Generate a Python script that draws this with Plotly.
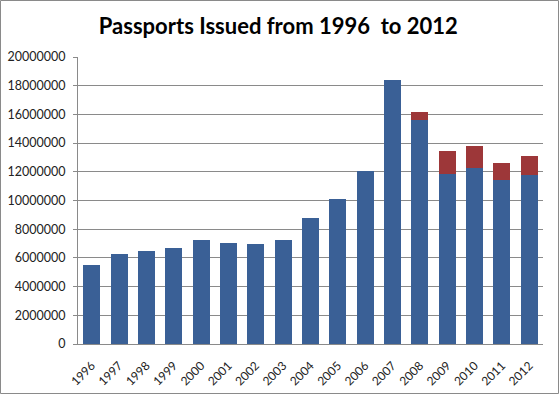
import plotly.graph_objects as go

years = [str(y) for y in range(1996, 2013)]
base_values = [5530000, 6260000, 6470000, 6700000, 7260000, 7050000, 6980000, 7260000,
               8770000, 10100000, 12090000, 18380000, 15630000, 11880000, 12280000, 11400000, 11810000]
extra_values = [0, 0, 0, 0, 0, 0, 0, 0, 0, 0, 0, 0, 510000, 1590000, 1540000, 1210000, 1310000]
y_ticks = list(range(0, 20000001, 2000000))

W, H = 560, 397
L, R, T, B = 78, 17, 57, 53
pw, ph = W - L - R, H - T - B

fig = go.Figure()
fig.add_bar(x=years, y=base_values, marker=dict(color="#3A6096", line=dict(width=0)))
fig.add_bar(x=years, y=extra_values, marker=dict(color="#9D3739", line=dict(width=0)))

fig.update_layout(
    width=W, height=H, barmode="stack", bargap=0.38, showlegend=False,
    margin=dict(l=L, r=R, t=T, b=B, autoexpand=False),
    paper_bgcolor="white", plot_bgcolor="white",
    font=dict(family="Lato, Calibri, sans-serif", size=12, color="#222222"),
    title=dict(text="<b>Passports Issued from 1996  to 2012</b>", x=0.497, xanchor="center",
               y=1 - 26 / H, yanchor="middle",
               font=dict(family="Lato, Calibri, sans-serif", size=22, color="black")),
)
fig.update_yaxes(range=[0, 20000000], tickvals=y_ticks, ticktext=[str(v) for v in y_ticks],
                 showgrid=True, gridcolor="#8a8a8a", gridwidth=1, automargin=False,
                 showline=True, linecolor="#8a8a8a", linewidth=1,
                 ticks="outside", ticklen=4, tickcolor="#8a8a8a", zeroline=False,
                 ticklabelstandoff=5, tickfont=dict(size=12.5))
fig.update_xaxes(showline=True, linecolor="#8a8a8a", linewidth=1, tickangle=-45, automargin=False,
                 ticks="", ticklabelstandoff=9, tickfont=dict(size=12))
fig.add_shape(type="rect", xref="paper", yref="paper",
              x0=-(L - 0.5) / pw, x1=1 + (R - 1.5) / pw, y0=-(B - 3.5) / ph, y1=1 + (T - 0.5) / ph,
              line=dict(color="#8a8a8a", width=1))
fig.write_html("out.html", config={"displayModeBar": False},
               post_script="document.body.style.margin='0';document.body.style.overflow='hidden';")
